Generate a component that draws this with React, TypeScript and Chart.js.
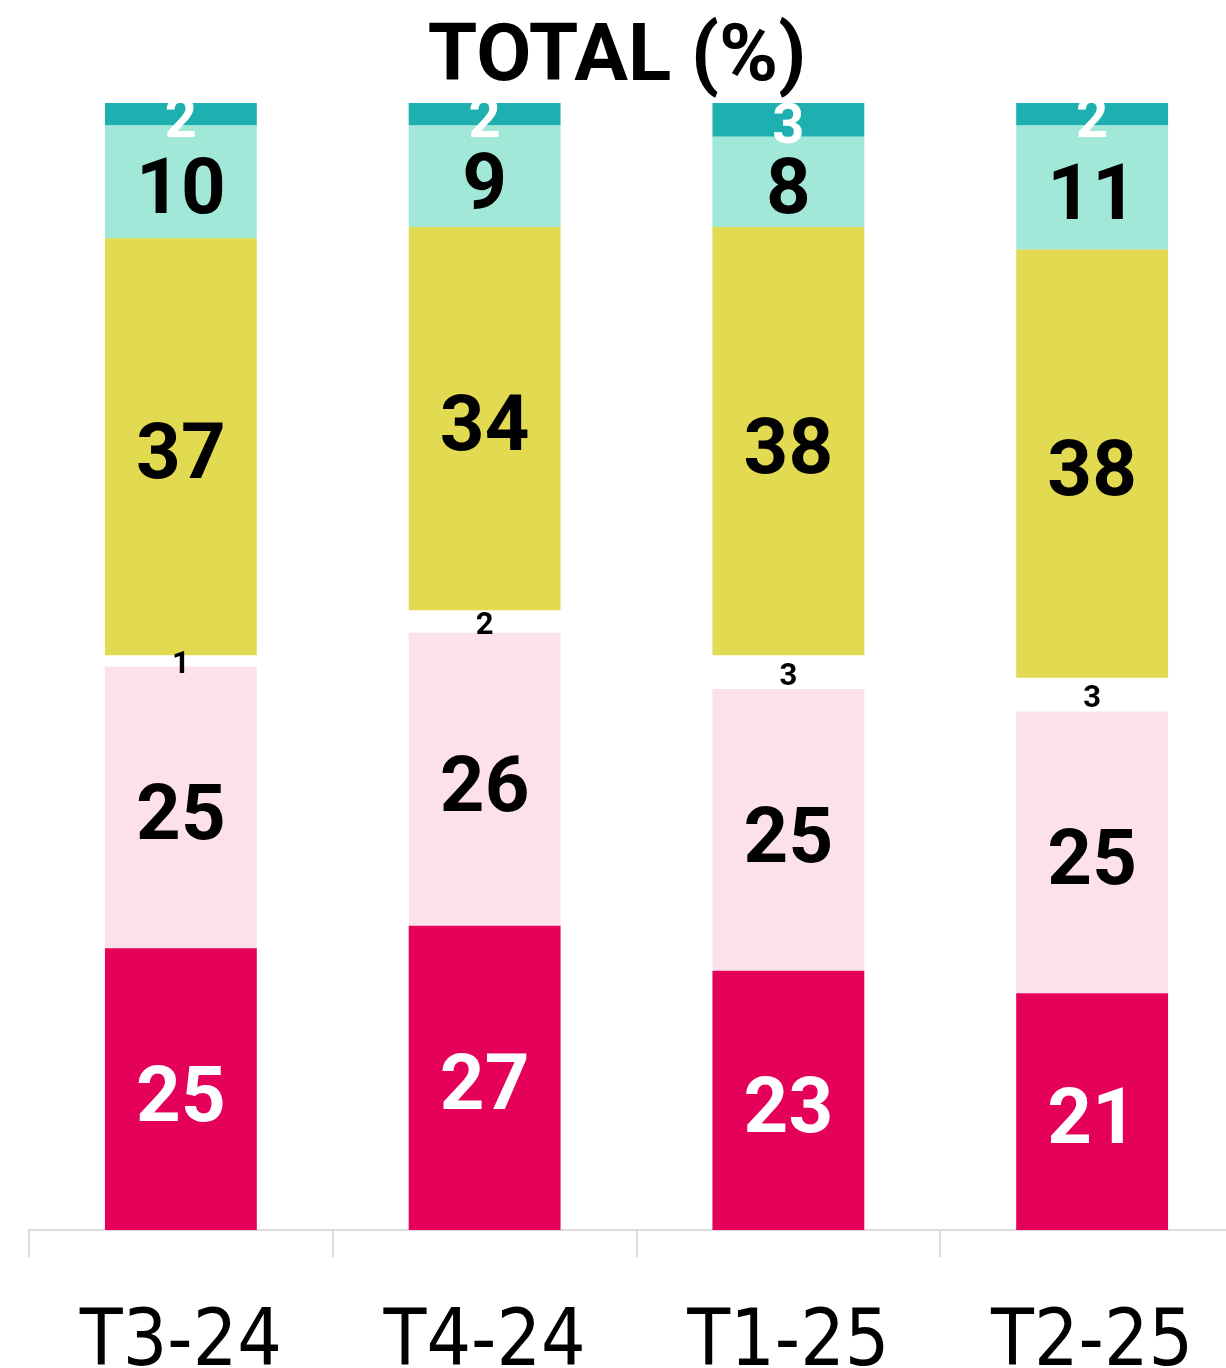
import React, { useEffect, useRef } from "react";
import { Chart, registerables } from "chart.js";

Chart.register(...registerables);

// ---- data ----
const categories = ["T3-24", "T4-24", "T1-25", "T2-25"];
const seriesDarkPink = [25, 27, 23, 21];
const seriesLightPink = [25, 26, 25, 25];
const seriesGap = [1, 2, 3, 3];
const seriesYellow = [37, 34, 38, 38];
const seriesLightTeal = [10, 9, 8, 11];
const seriesDarkTeal = [2, 2, 3, 2];
const titleText = "TOTAL (%)";

const LABEL_FONT = "Roboto, 'Noto Sans', sans-serif";
const TICK_FONT = "'Liberation Sans Narrow', 'DejaVu Sans Condensed', Roboto, sans-serif";

const titlePlugin = {
  id: "customTitle",
  afterDraw(chart: any) {
    const ctx = chart.ctx;
    ctx.save();
    ctx.font = `bold 80px ${LABEL_FONT}`;
    ctx.fillStyle = "#000";
    ctx.textAlign = "center";
    ctx.textBaseline = "alphabetic";
    ctx.fillText(titleText, 617, 80);
    ctx.restore();
  },
};

const labelPlugin = {
  id: "segLabels",
  afterDatasetsDraw(chart: any) {
    const ctx = chart.ctx;
    chart.data.datasets.forEach((ds: any, i: number) => {
      const meta = chart.getDatasetMeta(i);
      meta.data.forEach((el: any, j: number) => {
        const v = ds.data[j];
        const { x, y, base } = el.getProps(["x", "y", "base"], true);
        const size = ds.labelSize;
        ctx.save();
        ctx.font = `bold ${size}px ${LABEL_FONT}`;
        ctx.fillStyle = ds.labelColor;
        ctx.textAlign = "center";
        ctx.textBaseline = "alphabetic";
        ctx.fillText(String(v), x, (y + base) / 2 + size * 0.405);
        ctx.restore();
      });
    });
  },
};

export default function App() {
  const ref = useRef<HTMLCanvasElement | null>(null);
  useEffect(() => {
    if (!ref.current) return;
    const mk = (label: string, data: number[], color: string, labelColor: string, labelSize: number) => ({
      label,
      data,
      backgroundColor: color,
      borderWidth: 0,
      labelColor,
      labelSize,
      barPercentage: 0.5,
      categoryPercentage: 1,
    });
    const chart = new Chart(ref.current, {
      type: "bar",
      data: {
        labels: categories,
        datasets: [
          mk("s1", seriesDarkPink, "#E5005A", "#FFFFFF", 78),
          mk("s2", seriesLightPink, "#FDE1EA", "#000000", 78),
          mk("s3", seriesGap, "rgba(0,0,0,0)", "#000000", 31),
          mk("s4", seriesYellow, "#E2DA50", "#000000", 78),
          mk("s5", seriesLightTeal, "#A2E8D9", "#000000", 78),
          mk("s6", seriesDarkTeal, "#1EB0B0", "#FFFFFF", 56),
        ] as any,
      },
      options: {
        animation: false,
        responsive: false,
        maintainAspectRatio: false,
        layout: { padding: { top: 103, left: 29, right: 0, bottom: 0 } },
        plugins: {
          legend: { display: false },
          title: { display: false },
          tooltip: { enabled: false },
        },
        scales: {
          x: {
            stacked: true,
            offset: true,
            grid: {
              display: true,
              drawOnChartArea: false,
              drawTicks: true,
              tickLength: 27,
              color: "#dcdcdc",
              lineWidth: 2,
              offset: true,
            },
            border: { display: true, color: "#dcdcdc", width: 2 },
            ticks: {
              color: "#000",
              font: { family: TICK_FONT, size: 78, weight: "normal", lineHeight: 1 },
              padding: 49,
              maxRotation: 0,
              autoSkip: false,
            },
          },
          y: { stacked: true, display: false, min: 0, max: 100 },
        },
      },
      plugins: [labelPlugin, titlePlugin],
    });
    return () => chart.destroy();
  }, []);
  return (
    <div style={{ position: "fixed", left: 0, top: 0, width: 1226, height: 1368, overflow: "hidden", background: "#fff" }}>
      <canvas ref={ref} width={1244} height={1433} style={{ width: 1244, height: 1433, display: "block" }} />
    </div>
  );
}
